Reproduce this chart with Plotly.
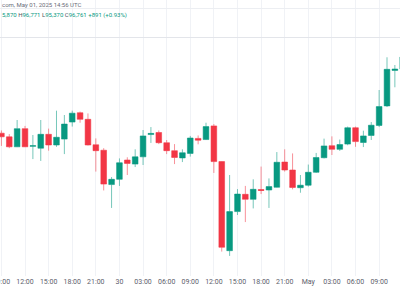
import plotly.graph_objects as go
import pandas as pd

# Hourly BTC/USD candles, Apr 29 09:00 -> May 1 12:00 (UTC)
times = pd.date_range("2025-04-29 09:00", periods=52, freq="h")

opens = [95670, 95590, 95370, 95770, 95380, 95340, 95645, 95410, 95540, 95915,
         96120, 95975, 95415, 95295, 94540, 94655, 95080, 94990, 95150, 95640,
         95685, 95460, 95285, 95125, 95225, 95555, 95530, 95830, 95045, 93085,
         93945, 94325, 94215, 94430, 94420, 94480, 95035, 94860, 94470, 94525,
         94810, 95130, 95395, 95315, 95430, 95790, 95465, 95620, 95840, 96270,
         97050, 97080]
highs = [95730, 95650, 95960, 95830, 95630, 95960, 95770, 96165, 96070, 96165,
         96145, 96105, 95555, 95340, 94705, 95115, 95140, 95315, 95740, 95805,
         95730, 95520, 95430, 95315, 95610, 95620, 95900, 95870, 95050, 94750,
         94440, 94510, 94655, 94935, 94675, 95255, 95315, 95225, 94750, 94980,
         95235, 95550, 95600, 95530, 95815, 95815, 95725, 95915, 96620, 97340,
         97170, 97455]
lows = [95390, 95340, 95365, 95365, 95100, 95060, 95285, 95370, 95210, 95815,
        95900, 95400, 94825, 94410, 94025, 94510, 94750, 94925, 94970, 95455,
        95430, 95210, 94990, 95035, 95155, 95425, 95520, 94795, 93065, 92970,
        93870, 93715, 94015, 94330, 94025, 94475, 94825, 94435, 94360, 94495,
        94795, 95115, 95190, 95280, 95405, 95370, 95365, 95520, 95805, 96245,
        96680, 97060]
closes = [95590, 95370, 95770, 95370, 95395, 95645, 95410, 95580, 95870, 96110,
          95975, 95410, 95285, 94550, 94655, 95020, 95005, 95150, 95610, 95665,
          95460, 95285, 95135, 95240, 95564, 95515, 95815, 95045, 93160, 93945,
          94330, 94215, 94435, 94410, 94495, 95030, 94860, 94475, 94525, 94810,
          95135, 95390, 95315, 95420, 95790, 95485, 95610, 95845, 96255, 97075,
          97080, 97345]

tick_vals = ["2025-04-29 09:00", "2025-04-29 12:00", "2025-04-29 15:00", "2025-04-29 18:00",
             "2025-04-29 21:00", "2025-04-30 00:00", "2025-04-30 03:00", "2025-04-30 06:00",
             "2025-04-30 09:00", "2025-04-30 12:00", "2025-04-30 15:00", "2025-04-30 18:00",
             "2025-04-30 21:00", "2025-05-01 00:00", "2025-05-01 03:00", "2025-05-01 06:00",
             "2025-05-01 09:00"]
tick_text = ["09:00", "12:00", "15:00", "18:00", "21:00", "30", "03:00", "06:00", "09:00",
             "12:00", "15:00", "18:00", "21:00", "May", "03:00", "06:00", "09:00"]

header_text = "com, May 01, 2025 14:56 UTC"
legend_text = ("<span style='color:#089981'>5,870</span> H<span style='color:#089981'>96,771</span> "
               "L<span style='color:#089981'>95,370</span> C<span style='color:#089981'>96,761</span> "
               "<span style='color:#089981'>+891 (+0.93%)</span>")

GREEN = "#089981"
RED = "#F23645"

fig = go.Figure(go.Candlestick(
    x=times, open=opens, high=highs, low=lows, close=closes,
    increasing=dict(fillcolor=GREEN, line=dict(color="rgba(8,153,129,0.55)", width=1)),
    decreasing=dict(fillcolor=RED, line=dict(color="rgba(242,54,69,0.55)", width=1)),
    whiskerwidth=0,
    showlegend=False,
))

H_PLOT = 276
fig.update_layout(
    width=400, height=300,
    margin=dict(l=0, r=0, t=0, b=300 - H_PLOT),
    paper_bgcolor="white", plot_bgcolor="white",
    font=dict(family="Roboto, Liberation Sans, sans-serif", size=7, color="#50535e"),
    boxgap=0.28, boxgroupgap=0,
    xaxis=dict(
        range=["2025-04-29 08:49:19", "2025-05-01 11:39:07"],
        rangeslider=dict(visible=False),
        tickvals=tick_vals, ticktext=tick_text,
        ticklabeloverflow="allow", automargin=False,
        showgrid=True, gridcolor="#f0f2f6", gridwidth=1,
        zeroline=False, showline=False, ticks="",
        tickfont=dict(size=7, color="#5d606b"),
    ),
    yaxis=dict(
        range=[98600 - 22 * H_PLOT, 98600],
        showticklabels=False, showgrid=False, zeroline=False, showline=False, ticks="",
    ),
    shapes=[
        dict(type="line", xref="paper", yref="paper", x0=0, x1=1,
             y0=1 - 8.5 / H_PLOT, y1=1 - 8.5 / H_PLOT, line=dict(color="#eceef2", width=1)),
        dict(type="line", xref="paper", yref="paper", x0=0, x1=1,
             y0=1 - 37.5 / H_PLOT, y1=1 - 37.5 / H_PLOT, line=dict(color="#e3e5ea", width=1)),
    ],
    annotations=[
        dict(text=header_text, xref="paper", yref="paper", x=0, y=1 - 5 / H_PLOT,
             xanchor="left", yanchor="middle", showarrow=False,
             font=dict(size=6, color="#6a6d78")),
        dict(text=legend_text, xref="paper", yref="paper", x=0, y=1 - 14.5 / H_PLOT,
             xanchor="left", yanchor="middle", showarrow=False,
             font=dict(size=6, color="#50535e")),
    ],
)

fig.write_html("out.html")
